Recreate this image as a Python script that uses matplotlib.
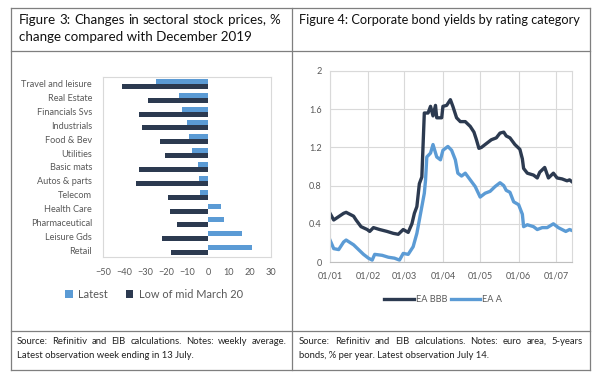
import matplotlib
matplotlib.use("Agg")
import matplotlib.pyplot as plt
import matplotlib.dates as mdates
from matplotlib.lines import Line2D
import pandas as pd

plt.rcParams['font.family'] = ['Lato', 'DejaVu Sans']

# Figure 3 data: % change vs December 2019
sectors = ['Travel and leisure', 'Real Estate', 'Financials Svs', 'Industrials',
           'Food & Bev', 'Utilities', 'Basic mats', 'Autos & parts', 'Telecom',
           'Health Care', 'Pharmaceutical', 'Leisure Gds', 'Retail']
latest = [-25.0, -13.7, -12.4, -10.2, -9.0, -7.5, -4.9, -4.1, -3.7, 6.0, 7.5, 16.3, 21.1]
low_march = [-41.0, -28.7, -33.0, -31.6, -22.9, -20.3, -32.7, -34.4, -18.9, -18.0, -14.8, -21.8, -17.5]

# Figure 4 data: corporate bond yields (%)
bbb_dates = ['2020-01-01', '2020-01-04', '2020-01-12', '2020-01-14', '2020-01-20', '2020-01-22',
             '2020-01-26', '2020-01-31', '2020-02-02', '2020-02-05', '2020-02-10', '2020-02-16',
             '2020-02-21', '2020-02-25', '2020-02-29', '2020-03-04', '2020-03-07', '2020-03-09',
             '2020-03-11', '2020-03-13', '2020-03-15', '2020-03-17', '2020-03-20', '2020-03-22',
             '2020-03-24', '2020-03-26', '2020-03-27', '2020-03-31', '2020-04-01', '2020-04-04',
             '2020-04-07', '2020-04-09', '2020-04-12', '2020-04-15', '2020-04-19', '2020-04-23',
             '2020-04-26', '2020-04-28', '2020-04-30', '2020-05-02', '2020-05-06', '2020-05-10',
             '2020-05-14', '2020-05-17', '2020-05-20', '2020-05-22', '2020-05-25', '2020-05-29',
             '2020-06-02', '2020-06-04', '2020-06-05', '2020-06-08', '2020-06-13', '2020-06-16',
             '2020-06-18', '2020-06-22', '2020-06-25', '2020-06-29', '2020-07-02', '2020-07-06',
             '2020-07-10', '2020-07-12', '2020-07-14']
bbb_yield = [0.51, 0.44, 0.51, 0.52, 0.48, 0.44, 0.37, 0.34, 0.32, 0.36, 0.34, 0.32,
             0.30, 0.29, 0.34, 0.31, 0.40, 0.51, 0.58, 0.82, 0.89, 1.56, 1.56, 1.63,
             1.53, 1.64, 1.51, 1.51, 1.63, 1.64, 1.70, 1.63, 1.51, 1.47, 1.47, 1.42,
             1.36, 1.28, 1.19, 1.20, 1.24, 1.28, 1.30, 1.35, 1.36, 1.32, 1.30, 1.23,
             1.18, 1.08, 0.98, 0.93, 0.91, 0.88, 0.94, 0.99, 0.88, 0.93, 0.88, 0.87,
             0.85, 0.86, 0.84]
a_dates = ['2020-01-01', '2020-01-04', '2020-01-08', '2020-01-12', '2020-01-14', '2020-01-20',
           '2020-01-24', '2020-01-28', '2020-02-01', '2020-02-04', '2020-02-06', '2020-02-12',
           '2020-02-17', '2020-02-22', '2020-02-26', '2020-02-29', '2020-03-04', '2020-03-08',
           '2020-03-11', '2020-03-15', '2020-03-17', '2020-03-18', '2020-03-19', '2020-03-22',
           '2020-03-24', '2020-03-27', '2020-03-30', '2020-04-01', '2020-04-05', '2020-04-08',
           '2020-04-11', '2020-04-13', '2020-04-16', '2020-04-19', '2020-04-23', '2020-04-27',
           '2020-05-01', '2020-05-05', '2020-05-09', '2020-05-13', '2020-05-17', '2020-05-20',
           '2020-05-22', '2020-05-25', '2020-05-28', '2020-06-01', '2020-06-04', '2020-06-05',
           '2020-06-08', '2020-06-13', '2020-06-16', '2020-06-20', '2020-06-24', '2020-06-29',
           '2020-07-03', '2020-07-09', '2020-07-12', '2020-07-14']
a_yield = [0.23, 0.14, 0.13, 0.21, 0.23, 0.18, 0.13, 0.08, 0.04, 0.02, 0.08, 0.07,
           0.05, 0.04, 0.02, 0.09, 0.08, 0.16, 0.30, 0.58, 0.72, 0.86, 1.10, 1.14,
           1.23, 1.10, 1.07, 1.17, 1.21, 1.17, 1.07, 0.93, 0.90, 0.93, 0.86, 0.79,
           0.68, 0.72, 0.74, 0.79, 0.83, 0.80, 0.75, 0.73, 0.63, 0.60, 0.50, 0.37,
           0.39, 0.37, 0.34, 0.36, 0.36, 0.40, 0.36, 0.32, 0.34, 0.33]

dark = '#2c3a50'
light = '#5b9bd5'
grey_txt = '#595959'
border = '#7f7f7f'

W, H = 600, 385
fig = plt.figure(figsize=(6, 3.85), dpi=100)
renderer = fig.canvas.get_renderer()


def box(x0, y0, x1, y1):
    # pixel box (top-left origin) -> figure fraction rect
    return [x0 / W, 1 - y1 / H, (x1 - x0) / W, (y1 - y0) / H]


def hline(x0, x1, y):
    fig.add_artist(Line2D([x0 / W, x1 / W], [1 - y / H, 1 - y / H], color=border, lw=0.9))


def vline(x, y0, y1):
    fig.add_artist(Line2D([x / W, x / W], [1 - y0 / H, 1 - y1 / H], color=border, lw=0.9))


def justified(line, x0, x1, y, size, color):
    # spread words so the line fills x0..x1, like the Word table text
    words = line.split(' ')
    texts = [fig.text(0, 1 - y / H, w, fontsize=size, va='center', color=color) for w in words]
    widths = [t.get_window_extent(renderer).width for t in texts]
    gap = (x1 - x0 - sum(widths)) / (len(words) - 1)
    x = x0
    for t, w in zip(texts, widths):
        t.set_x(x / W)
        x += w + gap


# table frame
for y in (8, 51, 331, 370):
    hline(11, 590, y)
for x in (11, 292, 590):
    vline(x, 8, 370)

# titles
justified('Figure 3: Changes in sectoral stock prices, %', 19, 280, 20, 9.6, '#111111')
fig.text(19 / W, 1 - 37 / H, 'change compared with December 2019', fontsize=9.6,
         va='center', color='#111111')
fig.text(299 / W, 1 - 20 / H, 'Figure 4: Corporate bond yields by rating category', fontsize=9.2,
         va='center', color='#111111')

# sources
justified('Source: Refinitiv and EIB calculations. Notes: weekly average.', 17, 287, 341, 6.8, '#222222')
fig.text(17 / W, 1 - 356 / H, 'Latest observation week ending in 13 July.',
         fontsize=6.8, va='center', color='#222222')
justified('Source: Refinitiv and EIB calculations. Notes: euro area, 5-years', 299, 583, 341, 6.8, '#222222')
fig.text(299 / W, 1 - 356 / H, 'bonds, % per year. Latest observation July 14.',
         fontsize=6.8, va='center', color='#222222')

# ---- Figure 3: horizontal bars
ax1 = fig.add_axes(box(103, 77, 271, 257))
pos = list(range(len(sectors)))
h = 0.36
ax1.barh([p - h / 2 for p in pos], latest, height=h, color=light, label='Latest')
ax1.barh([p + h / 2 for p in pos], low_march, height=h, color=dark, label='Low of mid March 20')
ax1.set_ylim(len(sectors) - 0.5, -0.5)
ax1.set_xlim(-50, 30)
ax1.set_xticks(range(-50, 31, 10))
ax1.set_yticks(pos)
ax1.set_yticklabels(sectors)
ax1.tick_params(length=0, labelsize=6.6, labelcolor=grey_txt)
ax1.tick_params(axis='x', pad=8)
ax1.tick_params(axis='y', pad=8)
for s in ax1.spines.values():
    s.set_color('#d9d9d9')
    s.set_linewidth(0.8)
ax1.legend(loc='center', bbox_to_anchor=(154 / W, 1 - 294 / H), bbox_transform=fig.transFigure,
           ncol=2, frameon=False, fontsize=7.9, handlelength=0.7, handleheight=0.7,
           columnspacing=1.6, handletextpad=0.5, labelcolor=grey_txt)

# ---- Figure 4: bond yields
ax2 = fig.add_axes(box(330, 71, 572, 262))
ax2.plot(pd.to_datetime(bbb_dates), bbb_yield, color=dark, lw=2.4, label='EA BBB')
ax2.plot(pd.to_datetime(a_dates), a_yield, color=light, lw=2.4, label='EA A')
ax2.set_xlim(pd.Timestamp('2020-01-01'), pd.Timestamp('2020-07-14'))
ax2.set_ylim(0, 2)
ax2.set_yticks([0, 0.4, 0.8, 1.2, 1.6, 2])
ax2.set_yticklabels(['0', '0.4', '0.8', '1.2', '1.6', '2'])
ax2.xaxis.set_major_locator(mdates.MonthLocator())
ax2.xaxis.set_major_formatter(mdates.DateFormatter('%d/%m'))
ax2.grid(True, color='#d9d9d9', lw=0.8)
ax2.set_axisbelow(True)
ax2.tick_params(length=0, labelsize=6.6, labelcolor=grey_txt)
ax2.tick_params(axis='x', pad=7)
ax2.tick_params(axis='y', pad=6)
for s in ax2.spines.values():
    s.set_color('#d9d9d9')
    s.set_linewidth(0.8)
ax2.spines['bottom'].set_color('#bfbfbf')
ax2.legend(loc='center', bbox_to_anchor=(443 / W, 1 - 300 / H), bbox_transform=fig.transFigure,
           ncol=2, frameon=False, fontsize=6.6, handlelength=3.2, columnspacing=0.4,
           handletextpad=0.2, labelcolor=grey_txt)

fig.savefig('out.png', dpi=100)
